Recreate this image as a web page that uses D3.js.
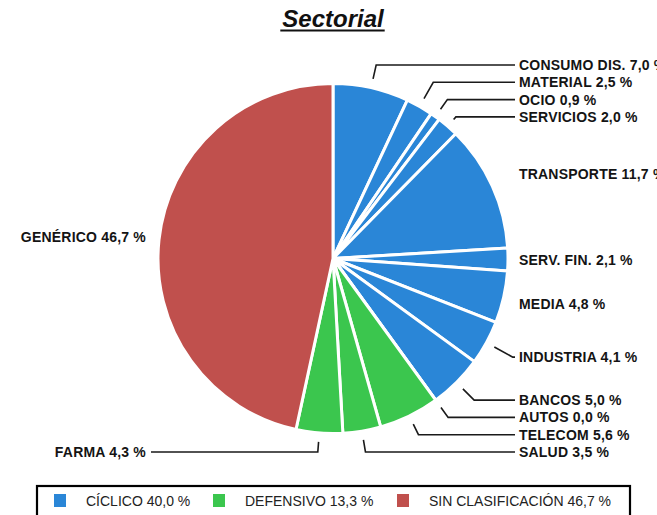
<!DOCTYPE html>
<html>
<head>
<meta charset="utf-8">
<script src="https://cdn.jsdelivr.net/npm/d3@7"></script>
<style>
	body { margin: 0; background: #fff; }
	svg { display: block; font-family: "Liberation Sans", Arial, sans-serif; }
</style>
</head>
<body>
<div class="content"></div>
<script>
// sector weights, clockwise from 12 o'clock
var sectors = ["CONSUMO DIS.", "MATERIAL", "OCIO", "SERVICIOS", "TRANSPORTE", "SERV. FIN.", "MEDIA",
	"INDUSTRIA", "BANCOS", "AUTOS", "TELECOM", "SALUD", "FARMA", "GENÉRICO"];
var weights = [7.0, 2.5, 0.9, 2.0, 11.7, 2.1, 4.8, 4.1, 5.0, 0.0, 5.6, 3.5, 4.3, 46.7];
var sectorGroup = [0, 0, 0, 0, 0, 0, 0, 0, 0, 0, 1, 1, 1, 2];

// legend
var groupNames = ["CÍCLICO", "DEFENSIVO", "SIN CLASIFICACIÓN"];
var groupTotals = [40.0, 13.3, 46.7];
var groupColors = ["#2a86d7", "#3bc64e", "#c0504d"];

var width = 657, height = 515;
var cx = 333, cy = 258.5, radius = 175;

var fmt = function(v) { return d3.format(".1f")(v).replace(".", ",") + " %"; };

var svg = d3.select(".content")
	.append("svg")
	.attr("width", width)
	.attr("height", height);

// title
var title = svg.append("text")
	.text("Sectorial")
	.attr("x", cx)
	.attr("y", 27)
	.attr("text-anchor", "middle")
	.style("font-size", "24px")
	.style("font-weight", "bold")
	.style("font-style", "italic")
	.style("fill", "#111");

var tw = title.node().getComputedTextLength();
svg.append("line")
	.attr("x1", cx - tw / 2 - 2)
	.attr("x2", cx + tw / 2 + 1)
	.attr("y1", 30.5)
	.attr("y2", 30.5)
	.attr("stroke", "#111")
	.attr("stroke-width", 2);

var data = sectors.map(function(s, i) {
	return { name: s, value: weights[i], group: sectorGroup[i] };
});

var pie = d3.pie().sort(null).value(function(d) { return d.value; });
var arc = d3.arc().innerRadius(0).outerRadius(radius);
var arcs = pie(data);

var g = svg.append("g").attr("transform", "translate(" + cx + "," + cy + ")");

g.selectAll("path")
	.data(arcs)
	.enter()
	.append("path")
	.attr("d", arc)
	.attr("fill", function(d) { return groupColors[d.data.group]; })
	.attr("stroke", "#fff")
	.attr("stroke-width", 3)
	.attr("stroke-linejoin", "round");

/** place labels on both sides, clamp to the pie's height and push apart */
var gap = 17.3;
var yMin = cy - radius - 18.5, yMax = cy + radius + 18.5;
var labels = arcs.map(function(d) {
	var mid = (d.startAngle + d.endAngle) / 2;
	var y = cy - (radius + 30) * Math.cos(mid);
	return { d: d, mid: mid, right: mid < Math.PI, y: Math.max(yMin, Math.min(yMax, y)) };
});

function spread(list) {
	list.sort(function(a, b) { return a.y - b.y; });
	for (var i = 1; i < list.length; i++) {
		list[i].y = Math.max(list[i].y, list[i - 1].y + gap);
	}
	if (list.length && list[list.length - 1].y > yMax) {
		list[list.length - 1].y = yMax;
		for (var j = list.length - 2; j >= 0; j--) {
			list[j].y = Math.min(list[j].y, list[j + 1].y - gap);
		}
	}
}
spread(labels.filter(function(l) { return l.right; }));
spread(labels.filter(function(l) { return !l.right; }));

var rightX = 519, leftX = 146;

labels.forEach(function(l) {
	var lx = l.right ? rightX : leftX;
	var endX = l.right ? lx - 4 : lx + 5;
	var c = Math.cos(l.mid), s = Math.sin(l.mid);
	var r0 = radius + 9;
	var t = Math.abs(c) > 1e-6 ? (cy - l.y) / c : Infinity;
	var ex = cx + t * s;
	var show = t >= r0 - 4 && isFinite(t) && (l.right ? ex < endX : ex > endX);

	if (show) {
		svg.append("polyline")
			.attr("points", [
				[cx + r0 * s, cy - r0 * c],
				[ex, l.y],
				[endX, l.y]
			].map(function(p) { return p.join(","); }).join(" "))
			.attr("fill", "none")
			.attr("stroke", "#1a1a1a")
			.attr("stroke-width", 1.6);
	}

	svg.append("text")
		.text(l.d.data.name + " " + fmt(l.d.data.value))
		.attr("x", lx)
		.attr("y", l.y + 5)
		.attr("text-anchor", l.right ? "start" : "end")
		.style("font-size", "14px")
		.style("font-weight", "bold")
		.style("letter-spacing", "0.2px")
		.style("fill", "#141414");
});

// legend box
svg.append("rect")
	.attr("x", 37)
	.attr("y", 486)
	.attr("width", 593)
	.attr("height", 40)
	.attr("fill", "#fff")
	.attr("stroke", "#000")
	.attr("stroke-width", 2.2);

var legendX = [54, 213, 397];
groupNames.forEach(function(n, i) {
	svg.append("rect")
		.attr("x", legendX[i])
		.attr("y", 494)
		.attr("width", 12)
		.attr("height", 13)
		.attr("fill", groupColors[i]);

	svg.append("text")
		.text(n + " " + fmt(groupTotals[i]))
		.attr("x", legendX[i] + 32)
		.attr("y", 506)
		.style("font-size", "14px")
		.style("fill", "#222");
});
</script>
</body>
</html>
